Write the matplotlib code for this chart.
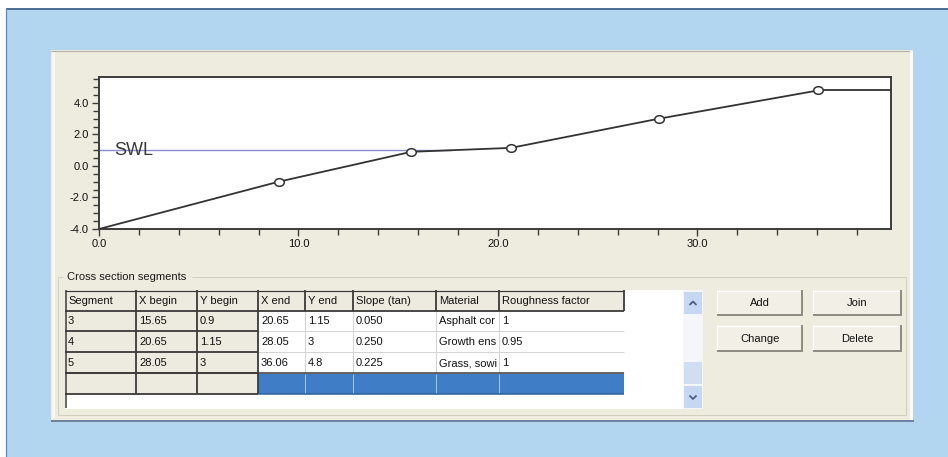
import numpy as np
import matplotlib
matplotlib.use("Agg")
import matplotlib.pyplot as plt
from matplotlib.patches import Rectangle
from matplotlib.markers import MarkerStyle
from matplotlib.transforms import Affine2D, Bbox, TransformedBbox

plt.rcParams['font.family'] = ['Liberation Sans', 'DejaVu Sans']

# ---------------- data ----------------
profile_x = [0.0, 9.0, 15.65, 20.65, 28.05, 36.06]
profile_y = [-4.0, -1.0, 0.9, 1.15, 3.0, 4.8]
swl_level = 1.0
x_major = [0, 10, 20, 30]
x_labels = ["0.0", "10.0", "20.0", "30.0"]
y_major = [-4, -2, 0, 2, 4]
y_labels = ["-4.0", "-2.0", "0.0", "2.0", "4.0"]
x_limits = (0.0, 39.7)
y_limits = (-4.0, 5.65)

table_headers = ["Segment", "X begin", "Y begin", "X end", "Y end",
                 "Slope (tan)", "Material", "Roughness factor"]
table_rows = [
    ["3", "15.65", "0.9", "20.65", "1.15", "0.050", "Asphalt cor", "1"],
    ["4", "20.65", "1.15", "28.05", "3", "0.250", "Growth ens", "0.95"],
    ["5", "28.05", "3", "36.06", "4.8", "0.225", "Grass, sowi", "1"],
]
button_labels = [["Add", "Join"], ["Change", "Delete"]]
group_title = "Cross section segments"

# ---------------- figure ----------------
W, H = 948, 457
fig = plt.figure(figsize=(W / 100, H / 100), dpi=100)
fig.patch.set_facecolor("white")
bg = fig.add_axes([0, 0, 1, 1])
bg.set_xlim(0, W)
bg.set_ylim(H, 0)
bg.axis("off")

PX = 0.72  # one pixel in points


def rect(x0, y0, x1, y1, fc, ec="none", lw=0, z=1, **kw):
    r = Rectangle((x0, y0), x1 - x0, y1 - y0, facecolor=fc, edgecolor=ec,
                  linewidth=lw, zorder=z, **kw)
    bg.add_patch(r)
    return r


def line(xs, ys, c, lw=1.0, z=2):
    bg.plot(xs, ys, color=c, lw=lw * PX, zorder=z, solid_capstyle="butt")


# outer blue frame
rect(6, 8, W, H, "#B3D6F0", z=0)
line([6, W], [8.5, 8.5], "#2F4F78", 1.5, z=1)
line([6.5, 6.5], [8, H], "#5F86B5", 1.2, z=1)

# beige panel
rect(51, 50, 911, 420, "#EEEBDF", z=1)
line([51, 911], [50.5, 50.5], "#B5B3AA", 1.2)
line([911, 911], [50, 420], "#FBFBF8", 3)
line([51, 914], [420.5, 420.5], "#71829F", 2)
line([53, 53], [52, 418], "#F8F7F2", 3)

# group box (etched)
gy = 277
line([58, 63], [gy, gy], "#D3CFBF", 1)
line([192, 906], [gy, gy], "#D3CFBF", 1)
line([58, 58], [gy, 415], "#D3CFBF", 1)
line([906, 906], [gy, 415], "#D3CFBF", 1)
line([58, 906], [415, 415], "#D3CFBF", 1)
bg.text(67, gy, group_title, fontsize=8, va="center", ha="left",
        color="#1A1A1A", zorder=3)

# grid widget
col_x = [65, 136, 197, 258, 305, 353, 436, 499, 624]
row_y = [290, 311, 331, 352, 373, 394]
rect(65, 290, 683, 409, "white", z=2)
dark = "#3A3A3A"
light = "#D4D4D4"
beige = "#EDEADF"
sel_blue = "#3F7EC6"

n_cols = len(table_headers)
# header row
for c in range(n_cols):
    rect(col_x[c], row_y[0], col_x[c + 1], row_y[1], beige, z=3)
# data rows
all_rows = table_rows + [[""] * n_cols]
for r, rowvals in enumerate(all_rows):
    y0, y1 = row_y[r + 1], row_y[r + 2]
    for c in range(n_cols):
        if c < 3:
            fc = beige
        elif r == len(table_rows):
            fc = sel_blue
        else:
            fc = "white"
        rect(col_x[c], y0, col_x[c + 1], y1, fc, z=3)

# grid lines - data region (light)
for r in range(2, len(row_y) - 1):
    line([col_x[3], col_x[-1]], [row_y[r], row_y[r]], light, 1, z=4)
for c in range(4, n_cols):
    line([col_x[c], col_x[c]], [row_y[1], row_y[4]], light, 1, z=4)
for c in range(4, n_cols):
    line([col_x[c], col_x[c]], [row_y[4] + 1, row_y[5]], "#A9C6EA", 1, z=4)
# dark lines: header + fixed columns
line([col_x[0], col_x[-1]], [row_y[0] + 0.5, row_y[0] + 0.5], dark, 1.2, z=5)
line([col_x[0], col_x[-1]], [row_y[1], row_y[1]], dark, 1.8, z=5)
for c in range(1, n_cols + 1):
    line([col_x[c], col_x[c]], [row_y[0], row_y[1]], dark, 1.8, z=5)
for r in range(2, len(row_y)):
    line([col_x[0], col_x[3]], [row_y[r], row_y[r]], dark, 1.8, z=5)
for c in range(1, 4):
    line([col_x[c], col_x[c]], [row_y[1], row_y[-1]], dark, 1.8, z=5)
line([col_x[0], col_x[-1]], [row_y[4], row_y[4]], dark, 1.5, z=5)
line([col_x[3], col_x[-1]], [row_y[5], row_y[5]], "#2B5E9C", 1.5, z=5)
line([66.5, 66.5], [row_y[0], 408], dark, 1.5, z=5)

# cell text
for c, h in enumerate(table_headers):
    bg.text(col_x[c] + 3, (row_y[0] + row_y[1]) / 2 + 0.5, h, fontsize=8,
            va="center", ha="left", color="#111111", zorder=6)
for r, rowvals in enumerate(table_rows):
    yc = (row_y[r + 1] + row_y[r + 2]) / 2 + 0.5
    for c, v in enumerate(rowvals):
        t = bg.text(col_x[c] + 3, yc, v, fontsize=8, va="center", ha="left",
                    color="#111111", zorder=6)
        cb = TransformedBbox(Bbox.from_extents(col_x[c], row_y[r + 1],
                                               col_x[c + 1] - 1, row_y[r + 2]),
                             bg.transData)
        t.set_clip_box(cb)
        t.set_clip_on(True)

# scrollbar
rect(683, 290, 703, 409, "#F4F6FA", z=3)
rect(684, 292, 702, 314, "#C6D8F1", z=4)
rect(684, 386, 702, 408, "#C6D8F1", z=4)
rect(684, 362, 702, 384, "#D0DEF2", z=4)
line([689.5, 693, 696.5], [305, 301.5, 305], "#4A5F86", 1.8, z=5)
line([689.5, 693, 696.5], [395.5, 399, 395.5], "#4A5F86", 1.8, z=5)

# buttons
btn_x = [(717, 803), (813, 902)]
btn_y = [(290, 316), (325, 352)]
for i, (y0, y1) in enumerate(btn_y):
    for j, (x0, x1) in enumerate(btn_x):
        rect(x0, y0, x1, y1, "#F1EFE6", z=3)
        line([x0, x1], [y0 + 0.5, y0 + 0.5], "#FFFFFF", 1.2, z=4)
        line([x0 + 0.5, x0 + 0.5], [y0, y1], "#FFFFFF", 1.2, z=4)
        line([x0, x1], [y1 - 1, y1 - 1], "#8F8D83", 2, z=4)
        line([x1 - 1, x1 - 1], [y0, y1], "#8F8D83", 2, z=4)
        bg.text((x0 + x1) / 2, (y0 + y1) / 2, button_labels[i][j], fontsize=8,
                ha="center", va="center", color="#111111", zorder=5)

# ---------------- chart ----------------
L, R, T, B = 99, 891, 77, 229
ax = fig.add_axes([L / W, 1 - B / H, (R - L) / W, (B - T) / H])
ax.set_facecolor("white")
ax.set_xlim(*x_limits)
ax.set_ylim(*y_limits)
for s in ax.spines.values():
    s.set_color("#3C3C3C")
    s.set_linewidth(1.4)
ax.set_xticks(x_major)
ax.set_xticklabels(x_labels)
ax.set_xticks(np.arange(0, x_limits[1], 2), minor=True)
ax.set_yticks(y_major)
ax.set_yticklabels(y_labels)
ax.set_yticks(np.arange(-4, y_limits[1], 0.5), minor=True)
ax.tick_params(axis="both", which="both", direction="out", color="#3C3C3C",
               labelsize=8, labelcolor="#111111", width=1.0, pad=2.5)
ax.tick_params(axis="both", which="major", length=5)
ax.tick_params(axis="both", which="minor", length=4)
ax.tick_params(axis="x", which="both", top=False)
ax.tick_params(axis="y", which="both", right=False)

# SWL line up to the intersection with the profile
x_int = float(np.interp(swl_level, profile_y, profile_x))
ax.plot([x_limits[0], x_int], [swl_level, swl_level], color="#8C8CD0",
        lw=1.0, zorder=2)
ax.text(0.75, swl_level, "SWL", fontsize=13, va="center", ha="left",
        color="#3A3A3A", zorder=5)

# profile
ax.plot(profile_x, profile_y, color="#333333", lw=1.3, zorder=3)
ax.plot([profile_x[-1], x_limits[1]], [profile_y[-1], profile_y[-1]],
        color="#333333", lw=1.3, zorder=3)
mk = MarkerStyle("o", transform=Affine2D().scale(1.25, 1.0))
ax.plot(profile_x[1:], profile_y[1:], linestyle="none", marker=mk,
        markersize=5.5, markerfacecolor="white", markeredgecolor="#333333",
        markeredgewidth=1.1, zorder=4)

fig.savefig("out.png", dpi=100)
